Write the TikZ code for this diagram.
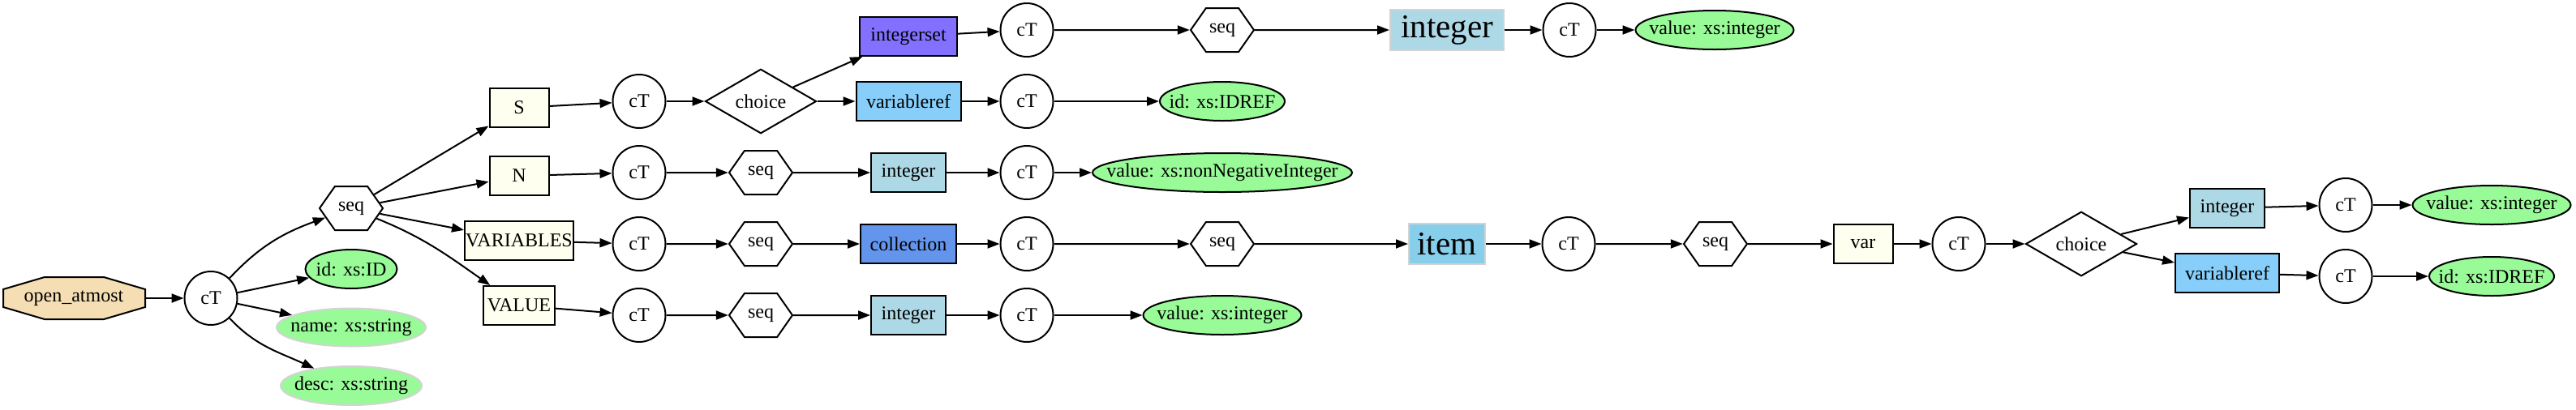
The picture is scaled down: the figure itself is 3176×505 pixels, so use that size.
\documentclass[tikz,border=0pt]{standalone}
\usepackage{fontspec}
\setmainfont{Liberation Serif}
\usetikzlibrary{shapes.geometric,shapes.symbols,arrows.meta}

\definecolor{wheat}{HTML}{F5DEB3}
\definecolor{palegreen}{HTML}{98FB98}
\definecolor{ivory}{HTML}{FFFFF0}
\definecolor{lightslateblue}{HTML}{8470FF}
\definecolor{lightskyblue}{HTML}{87CEFA}
\definecolor{lightblue}{HTML}{ADD8E6}
\definecolor{cornflowerblue}{HTML}{6495ED}
\definecolor{skyblue}{HTML}{87CEEB}
\definecolor{lightgrey}{HTML}{D3D3D3}

% text of fixed-size ellipses
\newcommand{\attrtext}[1]{\makebox[0pt]{#1}}

\tikzset{
  ct/.style={draw, ellipse, fill=white, minimum width=32.5pt, minimum height=33pt, inner sep=0pt},
  seqhex/.style={draw, signal, signal to=east and west, signal pointer angle=110,
    minimum width=39pt, minimum height=27pt, inner sep=0pt},
  choicebox/.style={draw, diamond, minimum width=68.5pt, minimum height=33.5pt, inner sep=0pt},
  elbox/.style={draw, rectangle, fill=ivory, minimum height=24pt, inner sep=0pt},
  typebox/.style={draw, rectangle, minimum height=24pt, inner sep=0pt},
  bigbox/.style={draw=lightgrey, rectangle, minimum height=25pt, inner sep=0pt,
    font=\fontsize{20.5pt}{24pt}\selectfont},
  attr/.style={draw, ellipse, fill=palegreen, minimum height=24pt, inner sep=0pt},
  optattr/.style={attr, draw=lightgrey},
  edge/.style={-{Triangle[length=7.5pt,width=5.5pt]}, line width=1pt},
}

\begin{document}
\begin{tikzpicture}[x=0.5pt, y=-0.5pt, line width=1pt, font=\fontsize{12pt}{14pt}\selectfont]
  \useasboundingbox (0,0) rectangle (3176,505);

  % Root
  \draw[fill=wheat] (91,368) ++(-87,-11) -- ++(51,-15) -- ++(73,0) -- ++(51,15)
    -- ++(0,22) -- ++(-51,15) -- ++(-73,0) -- ++(-51,-15) -- cycle;
  \node[rectangle, minimum width=87.5pt, minimum height=25.5pt, inner sep=0pt] (root) at (91,368) {open\_atmost};
  \node[ct] (ct0) at (260,368) {cT};
  \node[seqhex] (seq0) at (433,257) {seq};
  \node[attr, minimum width=56.5pt] (idattr) at (433,332) {\attrtext{id: xs:ID}};
  \node[optattr, minimum width=92pt, minimum height=23.5pt] (nameattr) at (433,404) {\attrtext{name: xs:string}};
  \node[optattr, minimum width=87pt] (descattr) at (433,476) {\attrtext{desc: xs:string}};

  % Elements
  \node[elbox, minimum width=36.5pt] (sel) at (640,133) {S};
  \node[elbox, minimum width=36.5pt] (nel) at (640,217) {N};
  \node[elbox, minimum width=67pt] (varsel) at (640,297) {VARIABLES};
  \node[elbox, minimum width=44pt] (valel) at (640,377) {VALUE};

  % Row S
  \node[ct] (sct) at (788,125) {cT};
  \node[choicebox] (schoice) at (938,125) {choice};
  \node[typebox, fill=lightslateblue, minimum width=60pt] (sset) at (1120,45) {integerset};
  \node[ct] (ssetct) at (1266,37) {cT};
  \node[seqhex] (ssetseq) at (1507,37) {seq};
  \node[bigbox, fill=lightblue, minimum width=70pt] (sint) at (1784,37) {integer};
  \node[ct] (sintct) at (1935,37) {cT};
  \node[attr, minimum width=97.5pt] (sintval) at (2114,37) {\attrtext{value: xs:integer}};
  \node[typebox, fill=lightskyblue, minimum width=64.5pt] (sref) at (1120,125) {variableref};
  \node[ct] (srefct) at (1266,125) {cT};
  \node[attr, minimum width=77pt] (srefid) at (1507,125) {\attrtext{id: xs:IDREF}};

  % Row N
  \node[ct] (nct) at (788,213) {cT};
  \node[seqhex] (nseq) at (938,213) {seq};
  \node[typebox, fill=lightblue, minimum width=46pt] (nint) at (1120,213) {integer};
  \node[ct] (nintct) at (1266,213) {cT};
  \node[attr, minimum width=160pt] (nval) at (1507,213) {\attrtext{value: xs:nonNegativeInteger}};

  % Row VARIABLES
  \node[ct] (vct) at (788,301) {cT};
  \node[seqhex] (vseq) at (938,301) {seq};
  \node[typebox, fill=cornflowerblue, minimum width=59pt] (vcoll) at (1120,301) {collection};
  \node[ct] (vcollct) at (1266,301) {cT};
  \node[seqhex] (vcollseq) at (1507,301) {seq};
  \node[bigbox, fill=skyblue, minimum width=47pt] (vitem) at (1784,301) {item};
  \node[ct] (vitemct) at (1934,301) {cT};
  \node[seqhex] (vitemseq) at (2115,301) {seq};
  \node[elbox, minimum width=36.5pt] (vvar) at (2297,301) {var};
  \node[ct] (vvarct) at (2415,301) {cT};
  \node[choicebox] (vchoice) at (2566,301) {choice};
  \node[typebox, fill=lightblue, minimum width=46pt] (vint) at (2746,257) {integer};
  \node[ct] (vintct) at (2892,253) {cT};
  \node[attr, minimum width=97.5pt] (vintval) at (3072,253) {\attrtext{value: xs:integer}};
  \node[typebox, fill=lightskyblue, minimum width=64pt] (vref) at (2746,337) {variableref};
  \node[ct] (vrefct) at (2892,341) {cT};
  \node[attr, minimum width=77pt] (vrefid) at (3072,341) {\attrtext{id: xs:IDREF}};

  % Row VALUE
  \node[ct] (lct) at (788,389) {cT};
  \node[seqhex] (lseq) at (938,389) {seq};
  \node[typebox, fill=lightblue, minimum width=46pt] (lint) at (1120,389) {integer};
  \node[ct] (lintct) at (1266,389) {cT};
  \node[attr, minimum width=97.5pt] (lval) at (1507,389) {\attrtext{value: xs:integer}};

  % Edges
  \draw[edge] (root) -- (ct0);
  \draw[edge] (ct0) to[out=47, in=200] (seq0);
  \draw[edge] (ct0) -- (idattr);
  \draw[edge] (ct0) -- (nameattr);
  \draw[edge] (ct0) to[out=-47, in=155] (descattr);
  \draw[edge] (seq0) -- (sel);
  \draw[edge] (seq0) -- (nel);
  \draw[edge] (seq0) -- (varsel);
  \draw[edge] (seq0) to[out=-22, in=145] (valel);

  \draw[edge] (sel) -- (sct);
  \draw[edge] (sct) -- (schoice);
  \draw[edge] (schoice) -- (sset);
  \draw[edge] (schoice) -- (sref);
  \draw[edge] (sset) -- (ssetct);
  \draw[edge] (ssetct) -- (ssetseq);
  \draw[edge] (ssetseq) -- (sint);
  \draw[edge] (sint) -- (sintct);
  \draw[edge] (sintct) -- (sintval);
  \draw[edge] (sref) -- (srefct);
  \draw[edge] (srefct) -- (srefid);

  \draw[edge] (nel) -- (nct);
  \draw[edge] (nct) -- (nseq);
  \draw[edge] (nseq) -- (nint);
  \draw[edge] (nint) -- (nintct);
  \draw[edge] (nintct) -- (nval);

  \draw[edge] (varsel) -- (vct);
  \draw[edge] (vct) -- (vseq);
  \draw[edge] (vseq) -- (vcoll);
  \draw[edge] (vcoll) -- (vcollct);
  \draw[edge] (vcollct) -- (vcollseq);
  \draw[edge] (vcollseq) -- (vitem);
  \draw[edge] (vitem) -- (vitemct);
  \draw[edge] (vitemct) -- (vitemseq);
  \draw[edge] (vitemseq) -- (vvar);
  \draw[edge] (vvar) -- (vvarct);
  \draw[edge] (vvarct) -- (vchoice);
  \draw[edge] (vchoice) -- (vint);
  \draw[edge] (vchoice) -- (vref);
  \draw[edge] (vint) -- (vintct);
  \draw[edge] (vintct) -- (vintval);
  \draw[edge] (vref) -- (vrefct);
  \draw[edge] (vrefct) -- (vrefid);

  \draw[edge] (valel) -- (lct);
  \draw[edge] (lct) -- (lseq);
  \draw[edge] (lseq) -- (lint);
  \draw[edge] (lint) -- (lintct);
  \draw[edge] (lintct) -- (lval);
\end{tikzpicture}
\end{document}
